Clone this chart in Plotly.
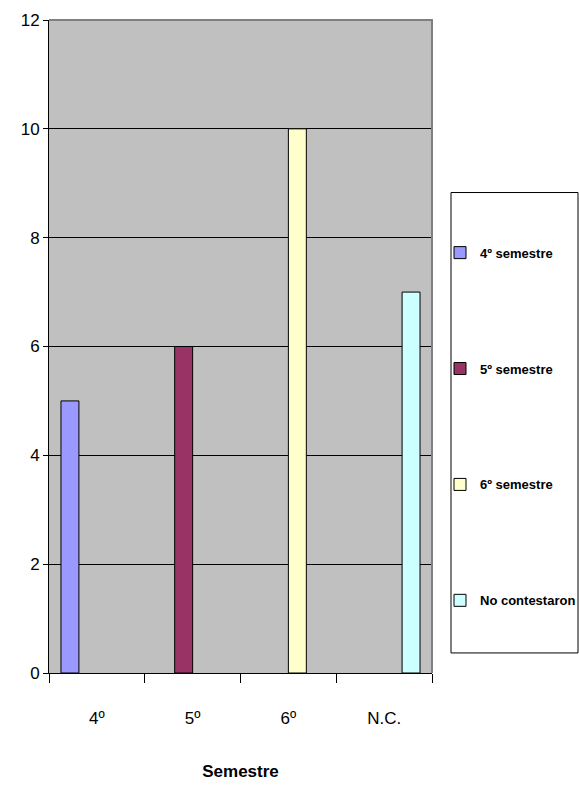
import plotly.graph_objects as go

# Encuesta: alumnos por semestre
categorias = ["4º", "5º", "6º", "N.C."]
series = ["4º semestre", "5º semestre", "6º semestre", "No contestaron"]
valores = [5, 6, 10, 7]
colores = ["#9999FF", "#993366", "#FFFFCC", "#CCFFFF"]
y_ticks = [0, 2, 4, 6, 8, 10, 12]

FONT = "Liberation Sans Narrow, Arial Narrow, Liberation Sans, Arial, sans-serif"

fig = go.Figure()
for i, (nombre, valor, color) in enumerate(zip(series, valores, colores)):
    ys = [valor if j == i else None for j in range(len(categorias))]
    fig.add_trace(go.Bar(
        x=categorias, y=ys, name=nombre,
        marker=dict(color=color, line=dict(color="black", width=1)),
        legendgroup=nombre,
    ))

fig.update_layout(
    width=579, height=788,
    margin=dict(l=49, r=147, t=20, b=115, autoexpand=False),
    paper_bgcolor="white",
    plot_bgcolor="#C0C0C0",
    barmode="group", bargap=0.25, bargroupgap=0,
    font=dict(family=FONT, color="black"),
    showlegend=True,
    legend=dict(
        x=(440 - 49) / 383, xanchor="left",
        y=(673 - 239) / 651, yanchor="top",
        bgcolor="rgba(0,0,0,0)", borderwidth=0,
        font=dict(family=FONT, size=13, color="black", weight="bold"),
        tracegroupgap=96, itemwidth=30,
    ),
    xaxis=dict(
        title=dict(text="<b>Semestre</b>", font=dict(size=17, family=FONT), standoff=37),
        showline=True, linecolor="black", linewidth=1,
        ticks="outside", tickson="boundaries", ticklen=9, tickcolor="black",
        tickfont=dict(size=17, family=FONT),
        ticklabelstandoff=30,
        showgrid=False,
    ),
    yaxis=dict(
        range=[0, 12], tickvals=y_ticks,
        showline=True, linecolor="black", linewidth=1,
        ticks="outside", ticklen=5, tickcolor="black",
        tickfont=dict(size=17, family=FONT),
        showgrid=True, gridcolor="black", gridwidth=1,
        zeroline=False,
    ),
)

# Plot-area border on the top and right edges
fig.add_shape(type="path", xref="x domain", yref="y domain",
              path="M 0,1 L 1,1 L 1,0", line=dict(color="#808080", width=2),
              layer="above")

# Legend frame
fig.add_shape(type="rect", xref="paper", yref="paper",
              x0=(451 - 49) / 383, x1=(578 - 49) / 383,
              y0=(673 - 653) / 651, y1=(673 - 194) / 651,
              line=dict(color="black", width=1), fillcolor="white", layer="below")

fig.write_html("out.html")
